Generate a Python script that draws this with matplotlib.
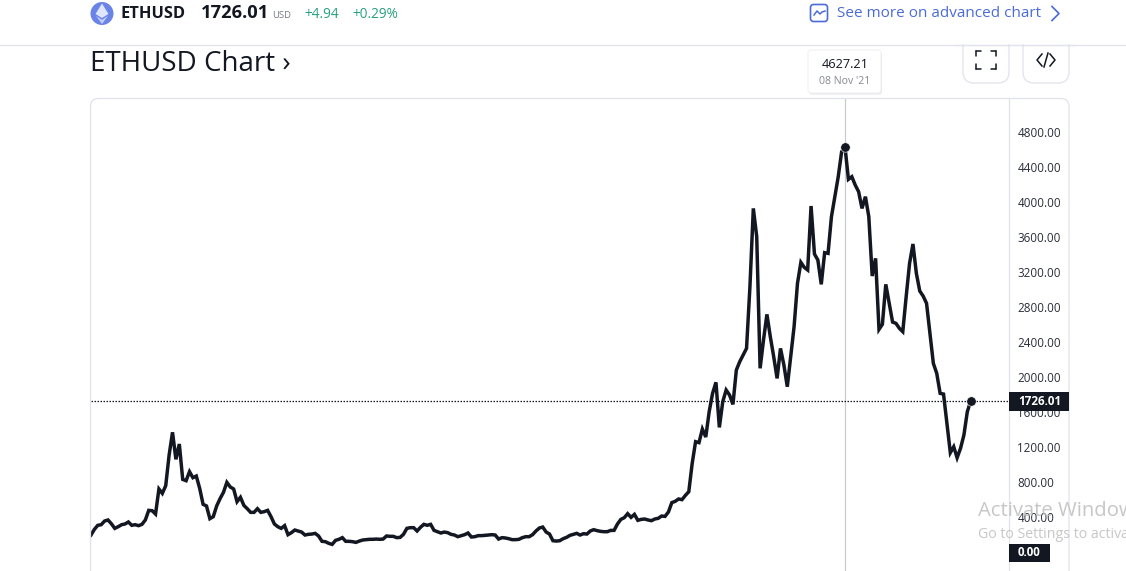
import matplotlib
matplotlib.use("Agg")
import matplotlib.pyplot as plt
from matplotlib.patches import FancyBboxPatch, Rectangle, Circle, Polygon
import numpy as np

plt.rcParams['font.family'] = ['Open Sans', 'DejaVu Sans']

# Weekly ETHUSD closes
prices_2017_2018 = [194, 259, 305, 312, 354, 366, 323, 270, 289, 312, 320, 343, 305, 312, 301, 316,
                    366, 476, 472, 434, 720, 670, 758, 1108, 1368, 1059, 1234, 830, 815, 918, 849, 868,
                    727, 545, 526, 381, 404, 526, 610, 682, 796, 743, 720, 575, 625, 533, 495, 453,
                    453, 495, 453, 461, 476, 404, 320, 289, 270, 301, 198, 221, 251, 240, 228, 194,
                    202, 205, 213, 183, 122, 118, 99, 87, 133, 145, 164, 122, 122, 118, 110, 125,
                    137, 141, 145, 145, 148, 145]
prices_2019_2020 = [148, 183, 179, 179, 164, 167, 202, 270, 278, 278, 240, 282, 316, 305, 316, 247,
                    232, 217, 228, 221, 202, 194, 175, 187, 198, 217, 171, 175, 187, 187, 190, 194,
                    198, 194, 148, 164, 160, 152, 141, 141, 145, 164, 175, 175, 198, 240, 274, 285,
                    228, 205, 129, 125, 129, 152, 167, 190, 202, 213, 194, 209, 205, 240, 255, 244,
                    236, 232, 232, 247, 247, 320, 373, 392, 438, 396, 430, 362, 373, 377, 366, 358,
                    377, 385, 411, 407, 457, 564, 579, 606, 598, 647, 689, 1013, 1261, 1250]
prices_2021 = [1405, 1314, 1603, 1813, 1939, 1424, 1718, 1851, 1794, 1687, 2080, 2175, 2251, 2327,
               3032, 3927, 3604, 2099, 2423, 2716, 2461, 2232, 1984, 2327, 2137, 1889, 2232, 2575,
               3070, 3310, 3253, 3223, 3954, 3405, 3337, 3059, 3421, 3413, 3832, 4061, 4289, 4575, 4627.21]
prices_2022 = [4259, 4289, 4194, 4118, 3927, 4061, 3832, 3154, 3356, 2544, 2602, 3059, 2842, 2628,
               2613, 2556, 2518, 2918, 3299, 3520, 3185, 2983, 2925, 2842, 2499, 2156, 2042, 1813,
               1805, 1470, 1135, 1203, 1077, 1184, 1337, 1603, 1726.01]
y_ticks = [400, 800, 1200, 1600, 2000, 2400, 2800, 3200, 3600, 4000, 4400, 4800]
last_price = 1726.01
peak_price = 4627.21

prices = prices_2017_2018 + prices_2019_2020 + prices_2021 + prices_2022
weeks = np.arange(len(prices))
peak_i = int(np.argmax(prices))

W, H = 1126, 571
INK = '#131722'
GRID = '#e0e3eb'
fig = plt.figure(figsize=(W/100, H/100), dpi=100, facecolor='white')

# Main chart axes: pixel box x 91..1009, y 98..571
ax = fig.add_axes([91/W, 0, (1009-91)/W, (571-98)/H], zorder=1)
s = (970.7-91)/(len(prices)-1)
ax.set_xlim(0, (1009-91)/s)
ax.set_ylim((552-571)/0.0875, (552-98)/0.0875)
ax.plot(weeks, prices, color=INK, lw=2.5, solid_joinstyle='miter', zorder=3)
ax.axvline(peak_i, color='#c9cbd1', lw=0.9, zorder=2)
ax.axhline(last_price, color=INK, lw=0.9, ls=(0, (1.2, 1.2)), zorder=2)
ax.plot([peak_i, weeks[-1]], [prices[peak_i], prices[-1]], 'o', color=INK, ms=6.8, mec='white', mew=0.4, zorder=4)
ax.set_xticks([])
ax.yaxis.tick_right()
ax.set_yticks(y_ticks)
ax.set_yticklabels([f'{v:.2f}' for v in y_ticks], fontsize=8.4, color='#2a2e39')
ax.tick_params(axis='y', length=0, pad=6)
for sp in ax.spines.values():
    sp.set_visible(False)
ax.spines['right'].set_visible(True)
ax.spines['right'].set_color(GRID)
ax.spines['right'].set_linewidth(0.9)

# Overlay in pixel coordinates for page furniture
ov = fig.add_axes([0, 0, 1, 1], zorder=2)
ov.set_xlim(0, W); ov.set_ylim(H, 0); ov.axis('off'); ov.patch.set_alpha(0)

# chart frame: rounded top corners, runs off the bottom of the picture
ov.add_patch(FancyBboxPatch((90.5, 98.5), 978.5, 600, boxstyle='round,pad=0,rounding_size=8',
                            fc='none', ec=GRID, lw=0.9, zorder=1))

# header line
ov.plot([0, W], [44.5, 44.5], color=GRID, lw=0.9)

# ETH logo
ov.add_patch(Circle((102, 13.5), 11.5, fc='#6a83e6', ec='none'))
ov.add_patch(Polygon([(102, 3.5), (108.5, 14), (102, 18), (95.5, 14)], fc='#dfe5fb', ec='none'))
ov.add_patch(Polygon([(102, 19.8), (108, 15.8), (102, 24), (96, 15.8)], fc='#c5cff7', ec='none'))

ov.text(121, 13.5, 'ETHUSD', fontsize=11.8, fontweight='bold', color=INK, va='center')
ov.text(201, 13, '1726.01', fontsize=13.2, fontweight='bold', color=INK, va='center')
ov.text(272, 15, 'USD', fontsize=6.8, color='#787b86', va='center')
ov.text(304, 14, '+4.94', fontsize=9.8, color='#26a17b', va='center')
ov.text(352, 14, '+0.29%', fontsize=9.8, color='#26a17b', va='center')

ov.text(90, 64, 'ETHUSD Chart ›', fontsize=20, color=INK, va='center')

# advanced chart link
BLUE = '#4a6bd8'
ov.add_patch(FancyBboxPatch((810.5, 4.5), 17, 17, boxstyle='round,pad=0,rounding_size=3', fc='none', ec=BLUE, lw=1.2))
ov.plot([814, 817, 820, 822, 825], [15, 11, 14, 12, 11], color=BLUE, lw=1.1)
ov.text(837, 13.5, 'See more on advanced chart', fontsize=11, color=BLUE, va='center')
ov.plot([1052, 1059, 1052], [6.5, 13.5, 20.5], color=BLUE, lw=1.2)

# tool buttons
for x0 in (963, 1023):
    ov.add_patch(FancyBboxPatch((x0, 30), 46, 53, boxstyle='round,pad=0,rounding_size=11', fc='white', ec=GRID, lw=0.9, zorder=1))
ov.add_patch(Rectangle((955, 20), 120, 24.4, fc='white', ec='none', zorder=1.5))
ov.plot([955, 1075], [44.5, 44.5], color=GRID, lw=0.9, zorder=1.6)
for (a, b, c, d) in [(976, 56, 976, 51), (981, 51, 976, 51), (991, 51, 996, 51), (996, 56, 996, 51),
                     (976, 64, 976, 69), (981, 69, 976, 69), (991, 69, 996, 69), (996, 64, 996, 69)]:
    ov.plot([a, c], [b, d], color=INK, lw=1.1, solid_capstyle='round')
ov.plot([1042, 1037, 1042], [54, 60, 66], color=INK, lw=1.1)
ov.plot([1050, 1055, 1050], [54, 60, 66], color=INK, lw=1.1)
ov.plot([1044, 1048], [67, 53], color=INK, lw=1.1)

# tooltip
ov.add_patch(FancyBboxPatch((809, 52), 73, 42.5, boxstyle='round,pad=0,rounding_size=3', fc='#d9dbe0', ec='none', zorder=2, alpha=0.6))
ov.add_patch(FancyBboxPatch((808, 50), 73, 43, boxstyle='round,pad=0,rounding_size=3', fc='white', ec='#eceef2', lw=0.6, zorder=3))
ov.text(845, 64, f'{peak_price:.2f}', fontsize=9.2, color=INK, ha='center', va='center', zorder=4)
ov.text(845, 81, "08 Nov '21", fontsize=7.6, color='#868993', ha='center', va='center', zorder=4)

# price tags
ov.add_patch(Rectangle((1009, 392), 60, 19, fc=INK, ec='none', zorder=5))
ov.text(1018, 401.5, f'{last_price:.2f}', fontsize=8.4, fontweight='bold', color='white', va='center', zorder=6)
ov.add_patch(Rectangle((1009, 543.5), 41, 18, fc=INK, ec='none', zorder=5))
ov.text(1018, 552.5, '0.00', fontsize=8.4, fontweight='bold', color='white', va='center', zorder=6)

# watermark
ov.text(978, 511, 'Activate Windows', fontsize=14.6, color='#bdbdbd', va='center', zorder=7, alpha=0.85)
ov.text(978, 534, 'Go to Settings to activate Windows.', fontsize=10.2, color='#bdbdbd', va='center', zorder=7, alpha=0.85)

fig.savefig('out.png', dpi=100, facecolor='white')
